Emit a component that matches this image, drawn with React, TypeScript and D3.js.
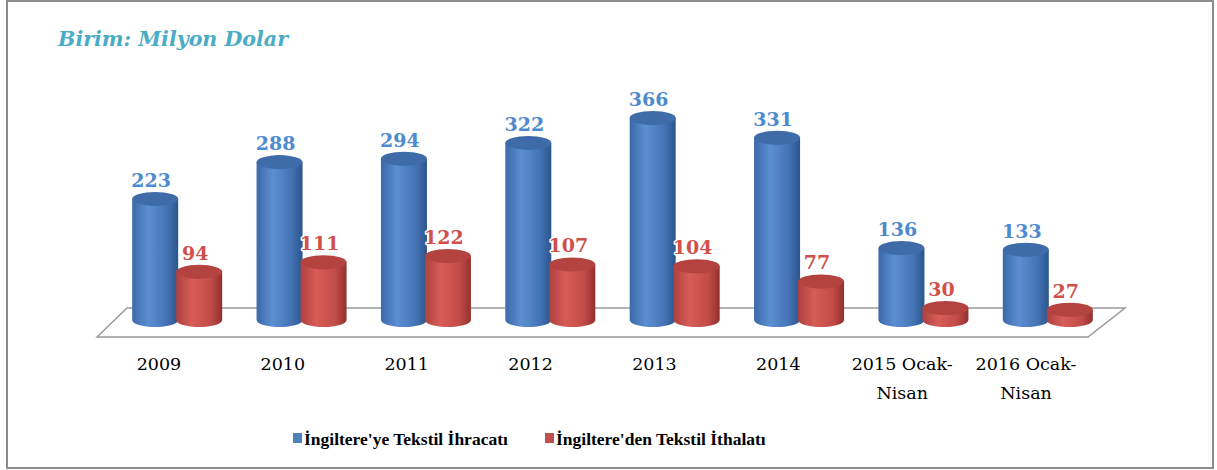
import React from "react";
import * as d3 from "d3";

const categories: string[][] = [
  ["2009"], ["2010"], ["2011"], ["2012"], ["2013"], ["2014"],
  ["2015 Ocak-", "Nisan"], ["2016 Ocak-", "Nisan"],
];
const exports_: number[] = [223, 288, 294, 322, 366, 331, 136, 133];
const imports_: number[] = [94, 111, 122, 107, 104, 77, 30, 27];
const seriesNames: string[] = ["İngiltere'ye Tekstil İhracatı", "İngiltere'den Tekstil İthalatı"];
const title = "Birim: Milyon Dolar";

const W = 1217, H = 470;
const SERIF = "'DejaVu Serif', serif";
const LSERIF = "'Liberation Serif', serif";

export default function App() {
  const idx = categories.map((_, i) => String(i));
  const groupX = d3.scaleBand().domain(idx).range([115, 1110]);
  const labelX = d3.scaleBand().domain(idx).range([97, 1088]);
  const y = d3.scaleLinear().domain([0, 366]).range([325, 118]);
  const baseY = 320;
  const rx = 23, ry = 7;
  const off = 22;

  const cyl = (cx: number, v: number, key: string, grad: string, top: string) => {
    const yt = y(v);
    const body = `M${cx - rx},${yt} L${cx - rx},${baseY} A${rx},${ry} 0 0 0 ${cx + rx},${baseY} L${cx + rx},${yt} Z`;
    return (
      <g key={key}>
        <path d={body} fill={`url(#${grad})`} />
        <ellipse cx={cx} cy={yt} rx={rx} ry={ry} fill={top} />
      </g>
    );
  };

  const floor = `M97,337 L127,308 L1125,308 L1088,337 Z`;

  return (
    <div style={{ position: "absolute", left: 0, top: 0, width: W, height: H, background: "#fff" }}>
      <svg width={W} height={H} style={{ display: "block" }}>
        <defs>
          <linearGradient id="gb" x1="0" x2="1" y1="0" y2="0">
            <stop offset="0" stopColor="#3b69aa" />
            <stop offset="0.35" stopColor="#5b8fd2" />
            <stop offset="0.75" stopColor="#4574b6" />
            <stop offset="1" stopColor="#2b558c" />
          </linearGradient>
          <linearGradient id="gr" x1="0" x2="1" y1="0" y2="0">
            <stop offset="0" stopColor="#ad413e" />
            <stop offset="0.35" stopColor="#d85c58" />
            <stop offset="0.75" stopColor="#c24c48" />
            <stop offset="1" stopColor="#92302e" />
          </linearGradient>
        </defs>
        <rect x={7} y={1} width={1206} height={467} fill="#fff" stroke="#8c8c8c" strokeWidth={2} />
        <text x={58} y={46} fill="#4bacc6" fontFamily={SERIF} fontStyle="italic" fontWeight="bold" fontSize={21}
          textLength={230} lengthAdjust="spacingAndGlyphs">{title}</text>
        <path d={floor} fill="#fff" stroke="#9a9a9a" strokeWidth={1.5} />
        {categories.map((_, i) => {
          const c = (groupX(String(i)) as number) + groupX.bandwidth() / 2;
          return (
            <g key={i}>
              {cyl(c - off, exports_[i], "b" + i, "gb", "#3f6ca9")}
              {cyl(c + off, imports_[i], "r" + i, "gr", "#b4423f")}
            </g>
          );
        })}
        {categories.map((_, i) => {
          const c = (groupX(String(i)) as number) + groupX.bandwidth() / 2;
          return (
            <g key={"l" + i} fontFamily={SERIF} fontWeight="bold" fontSize={19} textAnchor="middle"
               stroke="#fff" strokeWidth={3} paintOrder="stroke" strokeLinejoin="round">
              <text x={c - off - 4} y={y(exports_[i]) - ry - 5} fill="#4d8ad0">{exports_[i]}</text>
              <text x={c + off - 4} y={y(imports_[i]) - ry - 5} fill="#d0504c">{imports_[i]}</text>
            </g>
          );
        })}
        {categories.map((lines, i) => {
          const c = (labelX(String(i)) as number) + labelX.bandwidth() / 2;
          return (
            <text key={"c" + i} x={c} y={370} textAnchor="middle" fontFamily={SERIF} fontSize={17.5} fill="#000">
              {lines.map((t, j) => (
                <tspan key={j} x={c} dy={j === 0 ? 0 : 29}>{t}</tspan>
              ))}
            </text>
          );
        })}
        <g fontFamily={LSERIF} fontWeight="bold" fontSize={17.5} fill="#000">
          <rect x={293} y={433} width={9} height={10} fill="#4f81bd" />
          <text x={304} y={445}>{seriesNames[0]}</text>
          <rect x={545} y={433} width={9} height={10} fill="#c0504d" />
          <text x={556} y={445}>{seriesNames[1]}</text>
        </g>
      </svg>
    </div>
  );
}
